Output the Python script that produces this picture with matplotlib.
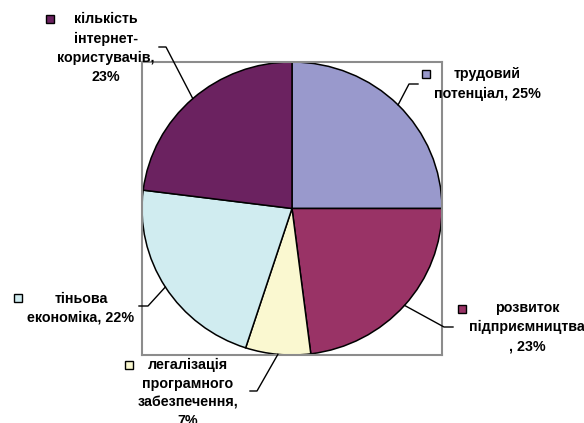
import matplotlib
matplotlib.use("Agg")
import matplotlib.pyplot as plt
import numpy as np
from matplotlib.lines import Line2D
from matplotlib.patches import Rectangle

labels = ["трудовий\nпотенціал, 25%",
          "розвиток\nпідприємництва\n, 23%",
          "легалізація\nпрограмного\nзабезпечення,\n7%",
          "тіньова\nекономіка, 22%",
          "кількість\nінтернет-\nкористувачів,\n23%"]
values = [25, 23, 7, 22, 23]
colors = ["#9999CC", "#993366", "#FAF8D0", "#D0ECF0", "#6B2260"]

W, H = 584, 423
fig = plt.figure(figsize=(W / 100, H / 100), dpi=100)
plt.rcParams['font.family'] = ['Liberation Sans', 'DejaVu Sans']

ax = fig.add_axes([142 / W, 1 - 355 / H, 300 / W, 293 / H])
wedges, _ = ax.pie(values, colors=colors, startangle=90, counterclock=False,
                   wedgeprops=dict(edgecolor="black", linewidth=1.1))
for w in wedges:
    w.set_clip_on(False)
ax.set_aspect('auto')
ax.set_xlim(-1.0, 1.0)
ax.set_ylim(-1.0, 1.0)
ax.set_frame_on(True)
for s in ax.spines.values():
    s.set_edgecolor("#8C8C8C")
    s.set_linewidth(1.5)
ax.set_xticks([])
ax.set_yticks([])


def px(x, y):
    return (x / W, 1 - y / H)


# layout: text centre, legend square centre, leader elbow, leader end (pixels)
layout = [
    dict(text=(487, 84), sq=(426, 74.5), elbow=(409, 84), end=(418, 84)),
    dict(text=(527, 327), sq=(461.5, 309), elbow=(444, 327), end=(453, 327)),
    dict(text=(188, 393), sq=(129, 365), elbow=(257, 391), end=(250, 391)),
    dict(text=(81, 308), sq=(18, 297.5), elbow=(148, 306), end=(139, 306)),
    dict(text=(106, 48), sq=(49.5, 19.5), elbow=(166, 47), end=(159, 47)),
]

inv = fig.transFigure.inverted()
cum = 0
total = sum(values)
for i, (lab, v) in enumerate(zip(labels, values)):
    mid = 90 - (cum + v / 2) / total * 360
    cum += v
    a = np.deg2rad(mid)
    anchor = inv.transform(ax.transData.transform((np.cos(a), np.sin(a))))
    L = layout[i]
    e = px(*L["elbow"])
    n = px(*L["end"])
    fig.add_artist(Line2D([anchor[0], e[0], n[0]], [anchor[1], e[1], n[1]],
                          color="black", linewidth=1.0, transform=fig.transFigure,
                          clip_on=False))
    tx, ty = px(*L["text"])
    fig.text(tx, ty, lab, ha="center", va="center", multialignment="center",
             fontsize=10.3, fontweight="bold", linespacing=1.45)
    sx, sy = L["sq"]
    s = 8
    p0 = px(sx - s / 2, sy + s / 2)
    fig.add_artist(Rectangle(p0, s / W, s / H, facecolor=colors[i], edgecolor="black",
                             linewidth=1.0, transform=fig.transFigure))

fig.savefig("out.png", dpi=100)
